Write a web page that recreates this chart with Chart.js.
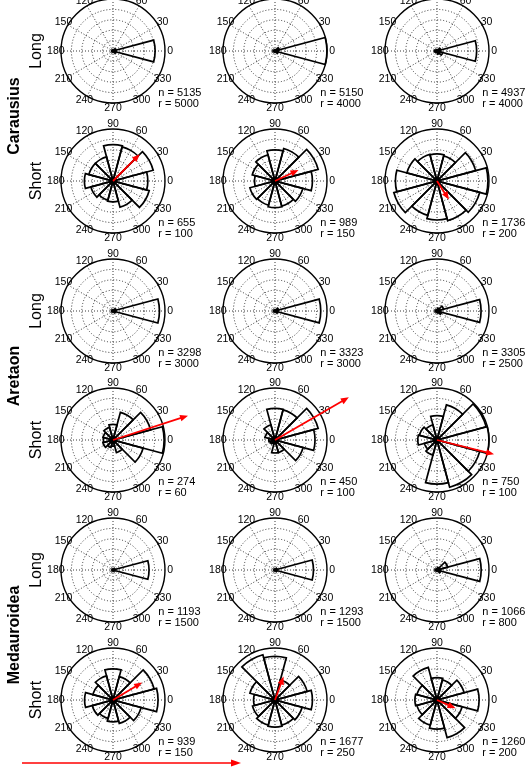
<!DOCTYPE html>
<html>
<head>
<meta charset="utf-8">
<script src="https://cdn.jsdelivr.net/npm/chart.js@4.4.0/dist/chart.umd.min.js"></script>
<style>
  html, body { margin: 0; padding: 0; background: #fff; }
  #fig { position: relative; width: 527px; height: 769px; overflow: hidden; font-family: "Liberation Sans", Arial, sans-serif; }
  #fig canvas { position: absolute; }
  .rowLabel { position: absolute; font-size: 16px; transform: translate(-50%, -50%) rotate(-90deg); white-space: nowrap; }
  .species { position: absolute; font-size: 16px; font-weight: bold; transform: translate(-50%, -50%) rotate(-90deg); white-space: nowrap; }
  #scaleBar { position: absolute; left: 0; top: 0; }
</style>
</head>
<body>
<div id="fig"></div>
<script>
// bin centres (degrees), 30 degree bins
const angleLabels = ['0', '30', '60', '90', '120', '150', '180', '210', '240', '270', '300', '330'];
const species = ['Carausius', 'Aretaon', 'Medauroidea'];
const rowTypes = ['Long', 'Short'];

// counts per bin, same order as angleLabels
const carausiusLong1 = [4050, 300, 60, 40, 40, 50, 120, 50, 40, 40, 45, 300];
const carausiusLong2 = [4000, 350, 60, 50, 50, 50, 150, 50, 50, 50, 40, 250];
const carausiusLong3 = [3050, 300, 100, 80, 80, 100, 200, 120, 100, 107, 250, 450];
const carausiusShort1 = [67, 80, 68, 70, 48, 48, 55, 44, 38, 40, 52, 72];
const carausiusShort2 = [108, 129, 97, 90, 78, 68, 59, 75, 72, 77, 75, 83];
const carausiusShort3 = [196, 154, 100, 104, 106, 120, 160, 172, 137, 150, 158, 170];

const aretaonLong1 = [2680, 180, 40, 30, 25, 30, 80, 25, 20, 18, 20, 150];
const aretaonLong2 = [2640, 220, 50, 30, 25, 25, 90, 20, 15, 15, 23, 170];
const aretaonLong3 = [2120, 330, 140, 60, 50, 50, 90, 45, 40, 50, 100, 230];
const aretaonShort1 = [59, 45, 33, 18, 15, 12, 11, 12, 9, 7, 15, 36];
const aretaonShort2 = [77, 86, 60, 61, 30, 20, 12, 10, 8, 25, 25, 56];
const aretaonShort3 = [100, 98, 70, 47, 30, 35, 37, 25, 30, 85, 94, 85];

const medauroideaLong1 = [1040, 50, 8, 5, 5, 5, 20, 5, 5, 5, 5, 40];
const medauroideaLong2 = [1110, 60, 10, 6, 5, 5, 25, 4, 4, 4, 5, 55];
const medauroideaLong3 = [680, 170, 40, 15, 12, 12, 30, 12, 10, 10, 15, 60];
const medauroideaShort1 = [130, 123, 70, 90, 72, 60, 82, 62, 55, 63, 70, 84];
const medauroideaShort2 = [180, 160, 100, 210, 225, 125, 103, 112, 125, 130, 125, 135];
const medauroideaShort3 = [162, 108, 80, 86, 130, 80, 85, 80, 100, 112, 150, 100];

// n and outer radius per panel, one list per row
const nRow1 = [5135, 5150, 4937];
const rRow1 = [5000, 4000, 4000];
const nRow2 = [655, 989, 1736];
const rRow2 = [100, 150, 200];
const nRow3 = [3298, 3323, 3305];
const rRow3 = [3000, 3000, 2500];
const nRow4 = [274, 450, 750];
const rRow4 = [60, 100, 100];
const nRow5 = [1193, 1293, 1066];
const rRow5 = [1500, 1500, 800];
const nRow6 = [939, 1677, 1260];
const rRow6 = [150, 250, 200];

// mean vectors of the short panels (angle in degrees, length in counts)
const arrowAngleC = [45, 25, 303];
const arrowLenC = [73, 75, 85];
const arrowAngleA = [18, 30, 346];
const arrowLenA = [91, 164, 113];
const arrowAngleM = [31, 70, 336];
const arrowLenM = [98, 120, 78];

const rows = [
  { bins: [carausiusLong1, carausiusLong2, carausiusLong3], n: nRow1, r: rRow1 },
  { bins: [carausiusShort1, carausiusShort2, carausiusShort3], n: nRow2, r: rRow2, ang: arrowAngleC, len: arrowLenC },
  { bins: [aretaonLong1, aretaonLong2, aretaonLong3], n: nRow3, r: rRow3 },
  { bins: [aretaonShort1, aretaonShort2, aretaonShort3], n: nRow4, r: rRow4, ang: arrowAngleA, len: arrowLenA },
  { bins: [medauroideaLong1, medauroideaLong2, medauroideaLong3], n: nRow5, r: rRow5 },
  { bins: [medauroideaShort1, medauroideaShort2, medauroideaShort3], n: nRow6, r: rRow6, ang: arrowAngleM, len: arrowLenM }
];

const colX = [113, 275, 437];
const rowY = [51, 181, 311, 440, 570, 700];
const RAD = 52;
const CW = 250, CH = 170, PAD_L = 33, PAD_T = 33;

Chart.defaults.font.family = '"Liberation Sans", Arial, sans-serif';

// 24 spokes every 15 deg, only the ones on bin centres get a line and a label
const spokeLabels = [];
for (let j = 0; j < 24; j++) {
  spokeLabels.push(j % 2 ? angleLabels[(12 - (j - 1) / 2) % 12] : '');
}

function roseDecor(info) {
  return {
    id: 'roseDecor',
    afterDatasetsDraw(chart) {
      const scale = chart.scales.r;
      const ctx = chart.ctx;
      const R = scale.drawingArea;
      const xc = scale.xCenter, yc = scale.yCenter;
      ctx.save();
      ctx.font = '10.5px "Liberation Sans", Arial, sans-serif';
      ctx.fillStyle = '#000';
      ctx.textAlign = 'center';
      ctx.textBaseline = 'middle';
      scale.getLabels().forEach((lab, j) => {
        if (!lab) return;
        const p = scale.getPointPosition(j, R * 1.1);
        ctx.fillText(lab, p.x, p.y);
      });
      ctx.font = '11px "Liberation Sans", Arial, sans-serif';
      ctx.textAlign = 'left';
      ctx.fillText('n = ' + info.n, xc + R * 0.87, yc + R * 0.81);
      ctx.fillText('r = ' + info.r, xc + R * 0.87, yc + R * 1.02);

      if (info.len) {
        const d = scale.getDistanceFromCenterForValue(info.len);
        const a = info.ang * Math.PI / 180;
        const ux = Math.cos(a), uy = -Math.sin(a);
        const x1 = xc + d * ux, y1 = yc + d * uy;
        const head = 8, half = 3.2;
        ctx.strokeStyle = '#ff0000';
        ctx.fillStyle = '#ff0000';
        ctx.lineWidth = 1.8;
        ctx.beginPath();
        ctx.moveTo(xc, yc);
        ctx.lineTo(x1 - ux * head * 0.8, y1 - uy * head * 0.8);
        ctx.stroke();
        ctx.beginPath();
        ctx.moveTo(x1, y1);
        ctx.lineTo(x1 - ux * head - uy * half, y1 - uy * head + ux * half);
        ctx.lineTo(x1 - ux * head + uy * half, y1 - uy * head - ux * half);
        ctx.closePath();
        ctx.fill();
      }
      ctx.restore();
    }
  };
}

const fig = document.getElementById('fig');

rows.forEach((row, ri) => {
  row.bins.forEach((bins, ci) => {
    const canvas = document.createElement('canvas');
    canvas.width = CW;
    canvas.height = CH;
    canvas.style.left = (colX[ci] - PAD_L - RAD) + 'px';
    canvas.style.top = (rowY[ri] - PAD_T - RAD) + 'px';
    fig.appendChild(canvas);

    const rMax = row.r[ci];
    // polar area runs clockwise from the start angle, bins are counter-clockwise
    const arcData = bins.map((v, i) => bins[(12 - i) % 12]);

    new Chart(canvas, {
      type: 'polarArea',
      data: {
        labels: spokeLabels,
        datasets: [{
          data: arcData,
          backgroundColor: 'rgba(0,0,0,0)',
          borderColor: '#000',
          borderWidth: 1.7,
          borderJoinStyle: 'miter',
          clip: false
        }]
      },
      options: {
        responsive: false,
        animation: false,
        events: [],
        layout: { padding: { left: PAD_L, top: PAD_T, right: CW - PAD_L - 2 * RAD, bottom: CH - PAD_T - 2 * RAD } },
        plugins: { legend: { display: false }, tooltip: { enabled: false } },
        scales: {
          r: {
            min: 0,
            max: rMax,
            startAngle: 75,
            ticks: { display: false, stepSize: rMax / 5 },
            pointLabels: { display: false },
            grid: {
              circular: true,
              color: c => (c.tick && c.tick.value >= rMax) ? '#000' : '#222',
              lineWidth: c => (c.tick && c.tick.value >= rMax) ? 1.4 : 0.9
            },
            border: { dash: c => (c.tick && c.tick.value >= rMax) ? [] : [1, 2] },
            angleLines: {
              display: true,
              color: c => (c.index % 2) ? '#222' : 'rgba(0,0,0,0)',
              lineWidth: 0.9,
              borderDash: [1, 2]
            }
          }
        }
      },
      plugins: [roseDecor({
        n: row.n[ci],
        r: rMax,
        ang: row.ang ? row.ang[ci] : null,
        len: row.len ? row.len[ci] : null
      })]
    });
  });
});

// row and species labels
rows.forEach((row, ri) => {
  const d = document.createElement('div');
  d.className = 'rowLabel';
  d.textContent = rowTypes[ri % 2];
  d.style.left = '36px';
  d.style.top = rowY[ri] + 'px';
  fig.appendChild(d);
});
species.forEach((name, si) => {
  const d = document.createElement('div');
  d.className = 'species';
  d.textContent = name;
  d.style.left = '14px';
  d.style.top = ((rowY[2 * si] + rowY[2 * si + 1]) / 2) + 'px';
  fig.appendChild(d);
});

// scale arrow at the bottom
fig.insertAdjacentHTML('beforeend',
  '<svg id="scaleBar" width="527" height="769">' +
  '<line x1="22" y1="763" x2="233" y2="763" stroke="#ff0000" stroke-width="1.5"/>' +
  '<polygon points="241,763 231,759.5 231,766.5" fill="#ff0000"/></svg>');
</script>
</body>
</html>
